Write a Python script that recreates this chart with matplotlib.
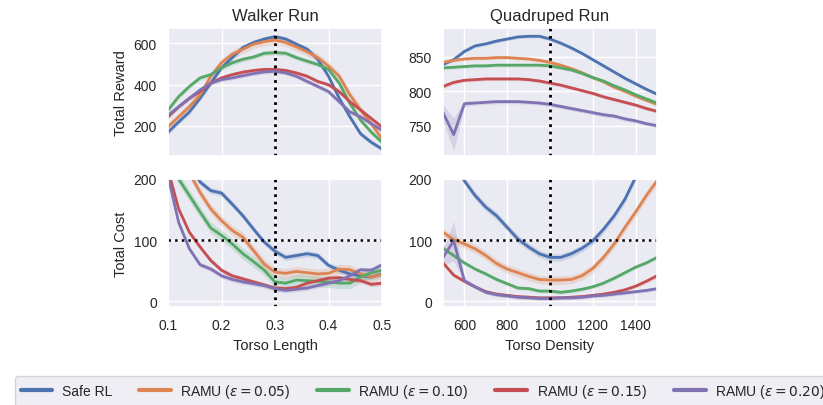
import numpy as np
import matplotlib
matplotlib.use("Agg")
import matplotlib.pyplot as plt
import seaborn as sns

sns.set_theme(style="darkgrid")
plt.rcParams['font.family'] = ['Liberation Sans', 'DejaVu Sans']

labels = ["Safe RL", r"RAMU ($\epsilon = 0.05$)", r"RAMU ($\epsilon = 0.10$)",
          r"RAMU ($\epsilon = 0.15$)", r"RAMU ($\epsilon = 0.20$)"]
colors = sns.color_palette("deep")[:5]

# torso length (walker) and torso density (quadruped)
torso_len = [0.10, 0.12, 0.14, 0.16, 0.18, 0.20, 0.22, 0.24, 0.26, 0.28, 0.30,
             0.32, 0.34, 0.36, 0.38, 0.40, 0.42, 0.44, 0.46, 0.48, 0.50]
torso_den = [500, 550, 600, 650, 700, 750, 800, 850, 900, 950, 1000,
             1050, 1100, 1150, 1200, 1250, 1300, 1350, 1400, 1450, 1500]

# Walker Run - reward
walker_reward = [
    [170, 220, 268, 334, 407, 481, 530, 579, 603, 620, 631, 620, 595, 571, 522, 440, 334, 244, 162, 121, 89],
    [195, 244, 293, 350, 440, 505, 546, 571, 595, 607, 615, 603, 582, 558, 530, 489, 440, 350, 277, 211, 138],
    [277, 342, 391, 432, 448, 481, 505, 522, 533, 551, 554, 551, 530, 513, 497, 473, 407, 309, 228, 170, 121],
    [244, 293, 334, 366, 407, 432, 448, 460, 468, 473, 473, 468, 456, 440, 415, 399, 366, 317, 277, 236, 195],
    [252, 293, 334, 374, 407, 424, 432, 443, 453, 461, 464, 456, 440, 415, 391, 366, 317, 268, 244, 211, 179],
]
walker_reward_err = [12, 20, 12, 10, 10]

# Quadruped Run - reward
quad_reward = [
    [839, 846, 858, 866, 869, 873, 876, 879, 880, 880, 876, 870, 863, 855, 846, 837, 828, 819, 811, 803, 796],
    [842, 845, 847, 848, 848, 849, 849, 848, 847, 845, 842, 838, 833, 827, 820, 814, 806, 800, 793, 787, 781],
    [834, 835, 836, 837, 837, 838, 838, 838, 838, 838, 837, 834, 831, 826, 820, 815, 808, 802, 795, 789, 783],
    [807, 813, 816, 817, 818, 818, 818, 818, 817, 815, 812, 809, 805, 801, 797, 792, 788, 784, 780, 775, 771],
    [769, 737, 782, 783, 784, 785, 785, 785, 784, 783, 781, 778, 775, 772, 769, 766, 764, 760, 757, 753, 750],
]
quad_reward_err = [2.5, 2.5, 2.5, 2.5, 3]
quad_purple_reward_err = [12, 24, 4, 3, 3, 3, 3, 3, 3, 3, 3, 3, 3, 3, 3, 3, 3, 3, 3, 3, 3]

# Walker Run - cost
walker_cost = [
    [280, 250, 225, 195, 181, 177, 159, 140, 118, 97, 82, 72, 75, 78, 75, 59, 51, 45, 42, 40, 45],
    [260, 230, 210, 178, 151, 132, 116, 105, 83, 61, 48, 46, 49, 47, 45, 46, 53, 52, 45, 40, 44],
    [240, 200, 173, 146, 120, 108, 94, 78, 65, 51, 32, 30, 35, 34, 33, 32, 30, 30, 40, 47, 51],
    [215, 151, 113, 89, 67, 51, 42, 37, 32, 27, 22, 21, 23, 30, 34, 38, 39, 36, 34, 28, 30],
    [205, 129, 86, 60, 53, 42, 36, 32, 29, 26, 21, 18, 20, 22, 26, 30, 34, 42, 52, 51, 60],
]
walker_cost_err = [5, 8, 9, 4, 4]

# Quadruped Run - cost
quad_cost = [
    [260, 230, 197, 173, 154, 140, 121, 102, 89, 78, 72, 72, 78, 87, 99, 118, 140, 167, 203, 240, 280],
    [113, 101, 94, 86, 75, 62, 53, 47, 41, 36, 35, 35, 36, 42, 54, 72, 94, 121, 146, 173, 197],
    [87, 75, 63, 53, 45, 36, 29, 22, 21, 17, 17, 15, 17, 20, 24, 30, 38, 47, 56, 63, 72],
    [63, 43, 33, 24, 16, 12, 10, 8, 7, 6, 6, 6, 7, 8, 10, 12, 15, 19, 25, 33, 42],
    [72, 99, 34, 24, 15, 11, 9, 7, 6, 5, 5, 6, 6, 7, 9, 10, 12, 14, 16, 18, 21],
]
quad_cost_err = [6, 7, 3, 3, 3]
quad_purple_cost_err = [14, 32, 4, 3, 3, 3, 3, 3, 3, 3, 3, 3, 3, 3, 3, 3, 3, 3, 3, 3, 3]

fig = plt.figure(figsize=(8.23, 4.06), dpi=100)
W, H = 823, 406


def add_ax(x0, x1, y0, y1):
    return fig.add_axes([x0 / W, 1 - y1 / H, (x1 - x0) / W, (y1 - y0) / H])


ax_wr = add_ax(168, 382, 29, 157)
ax_qr = add_ax(443, 657, 29, 157)
ax_wc = add_ax(168, 382, 180, 308)
ax_qc = add_ax(443, 657, 180, 308)


def draw(ax, x, ys, errs, special=None):
    x = np.array(x)
    for i, y in enumerate(ys):
        y = np.array(y, dtype=float)
        e = np.array(special if (special is not None and i == 4) else [errs[i]] * len(x), dtype=float)
        ax.fill_between(x, y - e, y + e, color=colors[i], alpha=0.2, lw=0)
        ax.plot(x, y, color=colors[i], lw=2.0, label=labels[i])


draw(ax_wr, torso_len, walker_reward, walker_reward_err)
draw(ax_qr, torso_den, quad_reward, quad_reward_err, quad_purple_reward_err)
draw(ax_wc, torso_len, walker_cost, walker_cost_err)
draw(ax_qc, torso_den, quad_cost, quad_cost_err, quad_purple_cost_err)

for ax in (ax_wr, ax_wc):
    ax.set_xlim(0.1, 0.5)
    ax.set_xticks([0.1, 0.2, 0.3, 0.4, 0.5])
    ax.axvline(0.3, color="black", ls=":", lw=2)
for ax in (ax_qr, ax_qc):
    ax.set_xlim(500, 1500)
    ax.set_xticks([600, 800, 1000, 1200, 1400])
    ax.axvline(1000, color="black", ls=":", lw=2)
for ax in (ax_wc, ax_qc):
    ax.set_ylim(-9, 200)
    ax.set_yticks([0, 100, 200])
    ax.axhline(100, color="black", ls=":", lw=1.8)

ax_wr.set_ylim(55, 673)
ax_wr.set_yticks([200, 400, 600])
ax_qr.set_ylim(706, 892)
ax_qr.set_yticks([750, 800, 850])
ax_wr.tick_params(labelbottom=False)
ax_qr.tick_params(labelbottom=False)

for ax in (ax_wr, ax_qr, ax_wc, ax_qc):
    ax.tick_params(labelsize=10, pad=2)

ax_wr.set_title("Walker Run", fontsize=12)
ax_qr.set_title("Quadruped Run", fontsize=12)
ax_wr.set_ylabel("Total Reward", fontsize=10.5)
ax_wc.set_ylabel("Total Cost", fontsize=10.5)
ax_wc.set_xlabel("Torso Length", fontsize=10.5)
ax_qc.set_xlabel("Torso Density", fontsize=10.5)

handles, lbls = ax_wr.get_legend_handles_labels()
leg = fig.legend(handles, lbls, loc="center left", bbox_to_anchor=(8 / W, 1 - 392 / H),
                 ncol=5, fontsize=10, handlelength=2.3, handletextpad=0.68,
                 columnspacing=1.9, borderpad=0.4, frameon=True)
for line in leg.get_lines():
    line.set_linewidth(3)

fig.savefig("out.png", dpi=100)
